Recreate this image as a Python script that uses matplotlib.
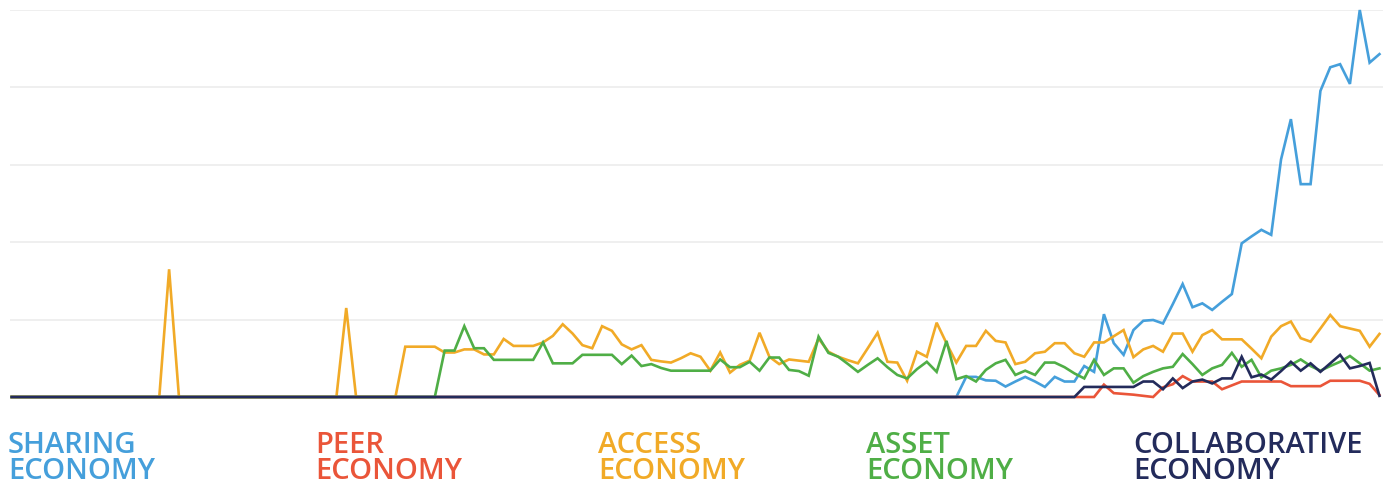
import matplotlib
matplotlib.use("Agg")
import matplotlib.pyplot as plt
import numpy as np

# Monthly search-interest index (0-100), one value per month, 140 months
access = [0] * 16 + [33] + [0] * 17 + [23] + [0] * 5 + [
    13, 13, 13, 13, 11.5, 11.5, 12.3, 12.3, 11, 11,
    15, 13.2, 13.2, 13.2, 14.1, 15.8, 18.8, 16.4, 13.4, 12.6,
    18.3, 17.1, 13.6, 12.3, 13.4, 9.6, 9.2, 8.9, 10, 11.3,
    10.4, 6.8, 11.5, 6.3, 8.3, 9.4, 16.6, 10.4, 8.5, 9.7,
    9.4, 9.1, 15.1, 11.7, 10.4, 9.5, 8.7, 12.6, 16.6, 9.1,
    8.9, 4.2, 11.7, 10.4, 19.2, 13.9, 8.9, 13.2, 13.2, 17.1,
    14.5, 14.1, 8.5, 9.1, 11.3, 11.7, 13.9, 13.9, 11.3, 10.4,
    14.1, 14.1, 15.7, 17.3, 10.3, 12.3, 13.2, 11.7, 16.4, 16.4,
    11.7, 16, 17.3, 14.9, 14.9, 14.9, 12.5, 10, 15.6, 18.3,
    19.5, 15.2, 14.3, 17.7, 21.2, 18.3, 17.7, 17.1, 13, 16.3]

asset = [0] * 44 + [
    12, 12, 18.3, 12.6, 12.6, 9.6,
    9.6, 9.6, 9.6, 9.6, 14.1, 8.7, 8.7, 8.7, 10.9, 10.9,
    10.9, 10.9, 8.5, 10.7, 8, 8.5, 7.5, 6.8, 6.8, 6.8,
    6.8, 6.8, 9.7, 7.7, 7.7, 9.1, 6.8, 10.2, 10.2, 7,
    6.7, 5.5, 15.6, 11.4, 10.4, 8.5, 6.5, 8.3, 10, 7.7,
    5.7, 4.8, 7.2, 9.1, 6.5, 14.5, 4.6, 5.4, 4, 7,
    8.7, 9.6, 5.7, 6.8, 5.7, 8.9, 8.9, 7.7, 6.1, 4.8,
    9.6, 5.7, 7.4, 7.4, 3.7, 5.4, 6.5, 7.4, 7.8, 11.1,
    8.5, 5.7, 7.4, 8.3, 11.4, 7.8, 9.6, 5.1, 6.8, 7.4,
    8.3, 9.7, 8, 6.8, 8, 9.1, 10.6, 8.7, 6.8, 7.4]

sharing = [0] * 97 + [
    5.2, 5.2, 4.3,
    4.2, 2.7, 4, 5.2, 4, 2.6, 5.2, 4, 4, 8,
    6.5, 21.4, 13.9, 10.9, 17.3, 19.7, 19.9, 19, 24, 29.2,
    23.2, 24.2, 22.5, 24.6, 26.6, 39.7, 41.5, 43.2, 41.9, 61.4,
    71.8, 55, 55, 79.1, 85.2, 86, 80.9, 100, 86.4, 88.6]

peer = [0] * 111 + [
    3.2, 1, 0.8, 0.6, 0.3, 0, 2.5, 3.3, 5.4,
    4, 4, 4, 2, 3, 4, 4, 4, 4, 4,
    2.8, 2.8, 2.8, 2.8, 4.2, 4.2, 4.2, 4.2, 3.4, 0.5]

collaborative = [0] * 109 + [
    2.6,
    2.6, 2.6, 2.6, 2.6, 2.6, 4, 4, 2, 4.8, 2.3,
    4, 4.5, 3.5, 4.8, 4.8, 10.4, 5.1, 5.8, 4.5, 6.7,
    9.1, 6.8, 8.7, 6.5, 8.7, 10.9, 7.4, 8, 8.8, 0.3]

labels = ["SHARING\nECONOMY", "PEER\nECONOMY", "ACCESS\nECONOMY",
          "ASSET\nECONOMY", "COLLABORATIVE\nECONOMY"]
colors = ["#459fdb", "#ea5539", "#f1aa27", "#4fae46", "#232b5b"]
series = [sharing, peer, access, asset, collaborative]

months = np.arange(len(access))

fig = plt.figure(figsize=(13.89, 4.84), dpi=100)
ax = fig.add_axes([10 / 1389, 87 / 484, 1372.7 / 1389, 387 / 484])

# light horizontal grid at 20, 40, ... 100
for g in [20, 40, 60, 80, 100]:
    ax.axhline(g, color="#ececec", lw=1.2, zorder=0)

# drawing order: orange, green, blue, red, navy on top
for k in [2, 3, 0, 1, 4]:
    ax.plot(months, series[k], color=colors[k], lw=1.9, clip_on=False,
            solid_joinstyle="miter", zorder=2 + k)

ax.set_xlim(-0.17, 139.33)
ax.set_ylim(0, 100)
ax.axis("off")

# legend-like labels under the chart, one text per line
label_x = [8, 315, 598, 866, 1133]
for lx, lab, c in zip(label_x, labels, colors):
    first, second = lab.split("\n")
    fig.text(lx / 1389, 1 - 453 / 484, first, color=c, fontsize=21,
             family="Open Sans", weight="semibold", va="baseline")
    fig.text(lx / 1389, 1 - 479 / 484, second, color=c, fontsize=21,
             family="Open Sans", weight="semibold", va="baseline")

fig.savefig("out.png", dpi=100)
plt.close(fig)
